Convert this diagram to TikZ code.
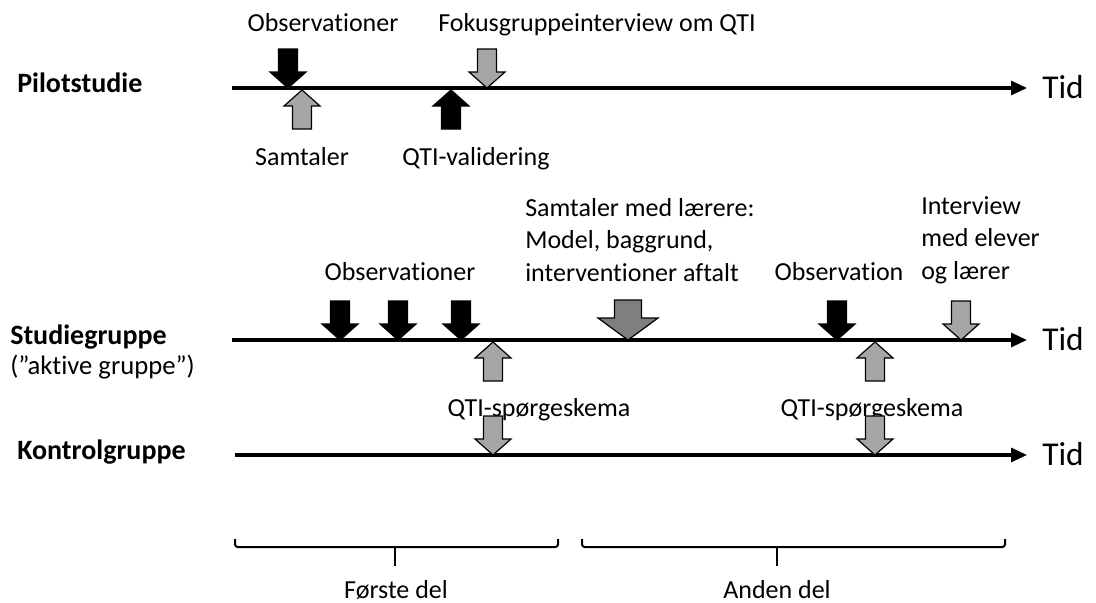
\documentclass[tikz,border=0pt]{standalone}
\usepackage{fontspec}
\setmainfont{Carlito}[Ligatures=NoCommon]
\usetikzlibrary{arrows.meta}
\definecolor{lightfill}{HTML}{A6A6A6}
\definecolor{darkfill}{HTML}{7F7F7F}
\begin{document}
\begin{tikzpicture}[x=0.75pt,y=-0.75pt,
  lbl/.style={inner sep=0pt,text height=0.68em,text depth=0.2em,font=\fontsize{19.5}{24}\selectfont},
  multi/.style={inner sep=0pt,anchor=west,align=left,font=\fontsize{19.5}{24.5}\selectfont},
  grouplbl/.style={inner sep=0pt,anchor=west,text height=0.68em,text depth=0.2em,font=\fontsize{21}{25}\selectfont\bfseries},
  tidlbl/.style={inner sep=0pt,anchor=west,text height=0.68em,text depth=0.2em,font=\fontsize{25}{30}\selectfont},
  timeline/.style={line width=2.3pt,-{Triangle[length=12pt,width=10.5pt]}},
  bracket/.style={line width=1.5pt,rounded corners=2pt},
  pics/blockdown/.style={code={
    \draw[line width=0.9pt,fill=#1] (-9.5,-39) -- (9.5,-39) -- (9.5,-16) -- (18,-16)
      -- (0,0) -- (-18,-16) -- (-9.5,-16) -- cycle;}},
  pics/bigdown/.style={code={
    \draw[line width=0.9pt,fill=#1] (-13.5,-40) -- (13.5,-40) -- (13.5,-22) -- (30,-22)
      -- (0,0) -- (-30,-22) -- (-13.5,-22) -- cycle;}}
]
\useasboundingbox (0,0) rectangle (1096,603);

% group labels
\node[grouplbl] (pilot) at (17,89) {Pilotstudie};
\node[grouplbl] (studie) at (10,341) {Studiegruppe};
\node[lbl,anchor=west,font=\fontsize{20}{24}\selectfont] (aktiv) at (10,371) {(”aktive gruppe”)};
\node[grouplbl] (kontrol) at (17,456) {Kontrolgruppe};

% time axes
\coordinate (p0) at (232,88);   \coordinate (p1) at (1027,88);
\coordinate (s0) at (232,340);  \coordinate (s1) at (1027,340);
\coordinate (k0) at (235,455);  \coordinate (k1) at (1027,455);
\draw[timeline] (p0) -- (p1);
\draw[timeline] (s0) -- (s1);
\draw[timeline] (k0) -- (k1);
\node[tidlbl] (ptid) at (1042,95) {Tid};
\node[tidlbl] (stid) at (1042,347) {Tid};
\node[tidlbl] (ktid) at (1042,462) {Tid};

% pilot study events
\pic at (288,88) {blockdown=black};
\pic[rotate=180] at (302,90) {blockdown=lightfill};
\pic[rotate=180] at (451,90) {blockdown=black};
\pic at (487,88) {blockdown=lightfill};
\node[lbl] (pobs) at (323,28) {Observationer};
\node[lbl,anchor=west] (pfok) at (438,28) {Fokusgruppeinterview om QTI};
\node[lbl] (psam) at (302,162) {Samtaler};
\node[lbl] (pval) at (476,162) {QTI-validering};

% study group events
\pic at (340,340) {blockdown=black};
\pic at (398,340) {blockdown=black};
\pic at (461,340) {blockdown=black};
\pic[rotate=180] at (493,342) {blockdown=lightfill};
\pic at (628,340) {bigdown=darkfill};
\pic at (837,340) {blockdown=black};
\pic[rotate=180] at (875,342) {blockdown=lightfill};
\pic at (961,340) {blockdown=lightfill};
\node[lbl] (sobs) at (400,277) {Observationer};
\node[multi] (ssam) at (525,240)
  {Samtaler med lærere:\\Model, baggrund,\\interventioner aftalt};
\node[lbl] (sobs2) at (839,277) {Observation};
\node[multi] (sint) at (921,240)
  {Interview\\med elever\\og lærer};
\node[lbl] (sqti1) at (539,413) {QTI-spørgeskema};
\node[lbl] (sqti2) at (872,413) {QTI-spørgeskema};

% control group events
\pic at (493,455) {blockdown=lightfill};
\pic at (875,455) {blockdown=lightfill};

% phase brackets
\draw[bracket] (235,539) -- (235,547) -- (558,547) -- (558,539);
\draw[line width=1.5pt] (395,547) -- (395,566);
\draw[bracket] (582,539) -- (582,547) -- (1005,547) -- (1005,539);
\draw[line width=1.5pt] (777,547) -- (777,566);
\node[lbl] (del1) at (396,595) {Første del};
\node[lbl] (del2) at (777,595) {Anden del};
\end{tikzpicture}
\end{document}
